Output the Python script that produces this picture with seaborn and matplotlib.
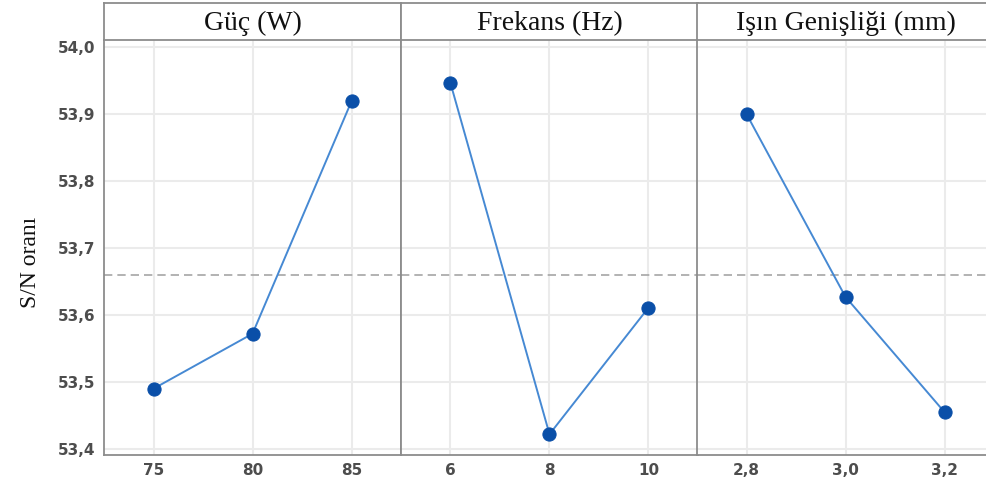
import numpy as np
import pandas as pd
import matplotlib
matplotlib.use("Agg")
import matplotlib.pyplot as plt
import seaborn as sns

# Main effects of each factor on the S/N ratio
factors = ["Güç (W)", "Frekans (Hz)", "Işın Genişliği (mm)"]
levels_guc = ["75", "80", "85"]
levels_frekans = ["6", "8", "10"]
levels_isin = ["2,8", "3,0", "3,2"]
sn_guc = [53.490, 53.572, 53.919]
sn_frekans = [53.946, 53.422, 53.611]
sn_isin = [53.900, 53.627, 53.455]
y_ticks = [53.4, 53.5, 53.6, 53.7, 53.8, 53.9, 54.0]
y_label = "S/N oranı"

levels = [levels_guc, levels_frekans, levels_isin]
values = [sn_guc, sn_frekans, sn_isin]
grand_mean = float(np.mean(sn_guc + sn_frekans + sn_isin))

sns.set_theme(style="white")
plt.rcParams["font.family"] = ["DejaVu Sans"]

W, H = 987, 488
fig = plt.figure(figsize=(W / 100, H / 100), dpi=100)

line_color = "#4689d3"
marker_color = "#0a4fa8"
grid_color = "#ebebeb"
frame_color = "#8c8c8c"
tick_color = "#4d4d4d"

panel_left = [104, 401, 697]
panel_w = 297
plot_top, plot_bottom = 40, 455
strip_top = 3

for i, (name, lv, vals) in enumerate(zip(factors, levels, values)):
    x0 = panel_left[i]
    ax = fig.add_axes([x0 / W, (H - plot_bottom) / H, panel_w / W,
                       (plot_bottom - plot_top) / H])
    df = pd.DataFrame({"pos": np.arange(len(lv)), "sn": vals})
    ax.axhline(grand_mean, color="#a6a6a6", lw=1.2, ls=(0, (5, 3)), zorder=1)
    sns.lineplot(data=df, x="pos", y="sn", ax=ax, color=line_color,
                 lw=1.4, zorder=3)
    sns.scatterplot(data=df, x="pos", y="sn", ax=ax, color=marker_color,
                    s=90, marker="o", edgecolor=marker_color, zorder=4)
    ax.set_xlim(-0.5, len(lv) - 0.5)
    ax.set_ylim(53.391, 54.0105)
    ax.set_xticks(np.arange(len(lv)))
    ax.set_xticklabels(lv)
    ax.set_yticks(y_ticks)
    ax.grid(True, color=grid_color, lw=1.5, zorder=0)
    ax.set_axisbelow(True)
    ax.set_xlabel("")
    ax.set_ylabel("")
    for side, sp in ax.spines.items():
        sp.set_visible(True)
        sp.set_color(frame_color)
        sp.set_linewidth(1.3)
    ax.spines["top"].set_visible(False)
    ax.tick_params(axis="x", length=3, width=1, color=frame_color,
                   labelsize=11, labelcolor=tick_color, pad=3)
    ax.tick_params(axis="y", length=3, width=1, color=frame_color,
                   labelsize=11, labelcolor=tick_color, pad=3)
    for lab in ax.get_xticklabels() + ax.get_yticklabels():
        lab.set_fontweight("semibold")
    if i == 0:
        ax.set_yticklabels([f"{t:.1f}".replace(".", ",") for t in y_ticks])
    else:
        ax.tick_params(axis="y", left=False, labelleft=False)

    # factor strip above each panel
    sax = fig.add_axes([x0 / W, (H - plot_top) / H, panel_w / W,
                        (plot_top - strip_top) / H])
    sax.set_xticks([])
    sax.set_yticks([])
    sax.set_facecolor("white")
    for sp in sax.spines.values():
        sp.set_color(frame_color)
        sp.set_linewidth(1.3)
    sax.text(0.5, 0.45, name, ha="center", va="center", fontsize=20,
             family=["Liberation Serif"], color="#111111",
             transform=sax.transAxes)

fig.text(31 / W, 1 - 262 / H, y_label, rotation=90, ha="center",
         va="center", fontsize=17, family=["Liberation Serif"],
         color="#111111")

fig.savefig("out.png", dpi=100, facecolor="white")
